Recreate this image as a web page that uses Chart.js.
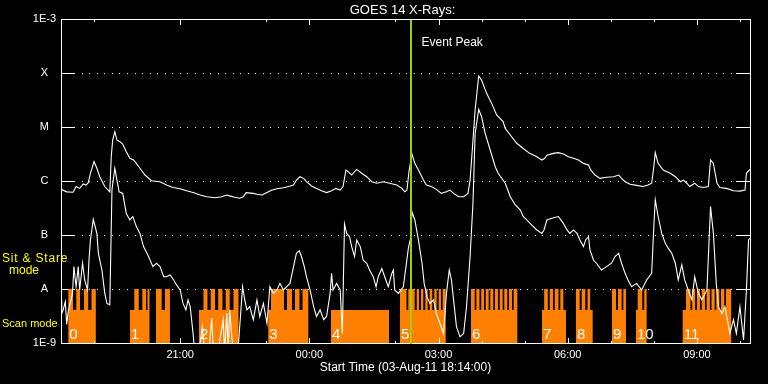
<!DOCTYPE html>
<html><head><meta charset="utf-8">
<script src="https://cdn.jsdelivr.net/npm/chart.js@4/dist/chart.umd.min.js"></script>
<style>html,body{margin:0;padding:0;background:#000;}canvas{display:block;}</style>
</head><body>
<canvas id="c" width="768" height="384"></canvas>
<script>
// ---- data (time in minutes after start 03-Aug-11 18:14:00, flux in W/m^2) ----
const longMin = [0,8,17,21,26,31,35,38,41,46, 50,54,61,68,70,72,75,78,82,86,
  91,96,101,105,110,117,126,138,147,156, 166,175,184,194,203,215,224,231,235,242,
  249,254,258,268,273,280,287,294,301,310, 317,324,328,333,338,342,349,356,363,370,
  377,383,389,393,397,400,405,412,419,426, 433,440,449,458,468,475,479,482,485,489,
  493,498,505,509,516,523,530,537,542,547, 554,561,567,570,574,577,582,586,593,600,
  607,616,619,626,635,644,653,663,670,674, 677,686,693,700,707,714,721,728,735,738,
  744,751,760,770,777,781,786,793,802,811, 818,823,826,828,832,839,849,856,863,867,
  872,876,883,888,895,902,905,909,914,918, 927,937,946,953,955,960];
const longFlux = [7.0e-7,6.3e-7,6.2e-7,7.9e-7,7.3e-7,8.8e-7,8.4e-7,9.3e-7,1.39e-6,2.28e-6,
  1.72e-6,1.2e-6,7.9e-7,6.3e-7,2.82e-6,5.7e-6,8.2e-6,5.7e-6,5.35e-6,4.84e-6,
  3.49e-6,2.63e-6,2.45e-6,2.12e-6,1.72e-6,1.29e-6,1.01e-6,9.7e-7,8.4e-7,7.6e-7,
  7.2e-7,6.6e-7,6.1e-7,5.5e-7,5.1e-7,4.9e-7,5.1e-7,5.5e-7,5.3e-7,5.0e-7,
  4.8e-7,5.1e-7,6.1e-7,5.9e-7,5.7e-7,5.5e-7,6.1e-7,6.8e-7,7.2e-7,7.5e-7,
  7.9e-7,8.4e-7,1.04e-6,1.2e-6,1.12e-6,9.7e-7,8.1e-7,7.3e-7,6.6e-7,6.1e-7,
  6.6e-7,7.3e-7,6.8e-7,7.9e-7,1.6e-6,1.49e-6,1.29e-6,1.64e-6,1.39e-6,1.2e-6,
  9.7e-7,9.1e-7,9.7e-7,9.1e-7,8.4e-7,7.3e-7,6.3e-7,6.8e-7,1.55e-6,3.16e-6,
  2.12e-6,1.6e-6,1.04e-6,8.4e-7,7.9e-7,7.0e-7,5.9e-7,6.3e-7,6.8e-7,5.9e-7,
  5.1e-7,5.1e-7,5.9e-7,1.04e-6,5.7e-6,2.07e-5,8.8e-5,7.4e-5,4.2e-5,2.74e-5,
  1.67e-5,1.26e-5,9.4e-6,7.1e-6,5.0e-6,4.0e-6,3.25e-6,2.82e-6,2.45e-6,2.63e-6,
  3.0e-6,3.25e-6,3.35e-6,3.16e-6,2.82e-6,2.63e-6,2.45e-6,2.12e-6,1.98e-6,1.6e-6,
  1.29e-6,1.12e-6,1.17e-6,1.2e-6,1.29e-6,1.12e-6,9.7e-7,8.7e-7,8.3e-7,7.9e-7,
  8.4e-7,9.1e-7,1.84e-6,3.35e-6,2.12e-6,1.6e-6,1.39e-6,1.2e-6,9.7e-7,1.04e-6,
  9.1e-7,7.9e-7,9.1e-7,7.9e-7,7.6e-7,7.9e-7,2.45e-6,2.12e-6,9.1e-7,7.6e-7,
  7.3e-7,6.6e-7,6.5e-7,6.8e-7,1.39e-6,1.64e-6];
const shortMin = [0,1,3,6,8,10,14,16,18,21, 24,26,30,33,37,39,41,45,50,52,
  57,61,64,68,71,75,78,81,86,91, 96,100,105,110,115,122,128,133,138,143,
  147,152,157,161,166,170,174,177,180,182, 184,188,192,197,201,206,210,213,219,226,
  228,231,233,235,240,247,253,256,259,263, 268,273,277,282,287,291,296,301,305,310,
  314,319,324,328,332,335,339,342,347,352, 356,361,366,370,375,377,379,384,389,392,
  395,398,402,405,409,412,417,421,426,430, 435,439,442,447,451,456,461,463,465,470,
  477,484,487,489,493,498,503,506,510,514, 519,523,528,533,537,541,544,547,551,556,
  561,565,570,574,577,582,586,591,598,605, 609,619,626,633,640,644,649,656,663,670,
  673,677,684,693,700,705,709,714,719,723, 728,731,735,737,742,746,753,760,767,772,
  777,781,786,790,795,802,809,816,823,826, 828,832,837,842,846,851,856,860,865,869,
  874,879,883,888,893,900,903,905,909,913, 916,921,925,932,937,941,946,951,955,958,
  960];
const shortFlux = [6.3e-9,3.5e-9,4.1e-9,5.8e-9,2.2e-9,3.8e-9,6.3e-9,8.3e-9,2.6e-8,1.1e-8,
  2.6e-8,9.6e-9,3.0e-8,1.47e-8,9.6e-9,3.4e-8,8.1e-8,1.95e-7,1.07e-7,4.6e-8,
  2.25e-8,8.3e-9,5.4e-9,5.1e-9,6.8e-7,1.72e-6,1.04e-6,6.3e-7,5.9e-7,2.5e-7,
  1.9e-7,2.2e-7,1.43e-7,1.07e-7,6.1e-8,4.0e-8,2.6e-8,3.0e-8,2.6e-8,1.69e-8,
  1.69e-8,1.82e-8,1.47e-8,1.19e-8,9.6e-9,5.4e-9,4.1e-9,6.3e-9,4.7e-9,2.7e-9,
  1.5e-9,3.7e-10,6.4e-10,2.0e-9,4.8e-10,6.4e-10,2.9e-9,4.8e-10,7.4e-10,2.7e-9,
  6.4e-10,3.6e-9,6.4e-10,4.1e-9,6.4e-10,8.6e-10,1.1e-8,6.3e-9,4.1e-9,4.7e-9,
  2.7e-9,6.3e-9,3.1e-9,5.4e-9,2.3e-9,1.1e-8,8.3e-9,9.6e-9,1.27e-8,9.6e-9,
  1.1e-8,1.27e-8,2.6e-8,4.6e-8,5.1e-8,4.0e-8,2.6e-8,1.69e-8,9.6e-9,4.7e-9,
  3.1e-9,4.1e-9,2.7e-9,3.1e-9,8.3e-9,1.95e-8,9.6e-9,1.27e-8,9.6e-9,1.5e-9,
  1.6e-7,1.07e-7,9.3e-8,6.1e-8,4.0e-8,8.1e-8,6.1e-8,3.4e-8,3.0e-8,2.25e-8,
  1.69e-8,1.1e-8,1.69e-8,2.4e-8,1.69e-8,1.1e-8,1.95e-8,2.25e-8,9.6e-9,8.3e-9,
  1.1e-8,5.7e-8,8.7e-8,2.7e-7,1.9e-7,8.1e-8,3.0e-8,1.27e-8,7.2e-9,5.4e-9,
  6.3e-9,3.5e-9,2.3e-9,1.5e-9,8.3e-9,2.25e-8,1.47e-8,6.3e-9,2.0e-9,1.3e-9,
  1.5e-9,4.7e-9,4.0e-8,3.9e-7,7.6e-6,2.12e-5,1.55e-5,7.6e-6,3.75e-6,1.84e-6,
  1.39e-6,9.1e-7,5.1e-7,3.6e-7,2.9e-7,2.2e-7,1.9e-7,1.53e-7,1.24e-7,1.07e-7,
  1.24e-7,1.9e-7,2.04e-7,2.2e-7,1.64e-7,1.24e-7,1.07e-7,1.24e-7,1.07e-7,8.1e-8,
  6.1e-8,8.1e-8,9.3e-8,5.3e-8,3.4e-8,3.0e-8,2.25e-8,2.6e-8,3.0e-8,4.0e-8,
  4.6e-8,3.0e-8,1.95e-8,1.47e-8,1.1e-8,1.27e-8,9.6e-9,1.47e-8,1.95e-8,1.43e-7,
  4.5e-7,2.2e-7,1.07e-7,7.0e-8,5.7e-8,4.6e-8,3.0e-8,1.47e-8,2.8e-8,1.47e-8,
  9.6e-9,6.3e-9,1.69e-8,8.3e-9,6.3e-9,9.6e-9,8.1e-8,3.35e-7,1.07e-7,1.27e-8,
  4.7e-9,3.5e-9,4.7e-9,1.5e-9,2.7e-9,1.5e-9,4.7e-9,1.14e-9,9.6e-9,8.1e-8,
  8.7e-8];
// observing mode: 0 = none, 1 = scan mode, 2 = sit & stare mode (segment start times)
const modeStart = [0,
  10.2,16.7,21.3,26.5,32.0,37.9,42.5,48.5,
  96.1,102.1,108.3,113.3,118.4,120.5,123.3,132.4,140.3,144.9,151.8,
  192.3,198.5,204.1,208.6,214.6,219.0,225.0,229.5,235.1,240.3,247.3,
  288.8,292.6,310.7,314.9,321.8,326.0,332.3,336.5,344.6,
  376.2,457.0,
  472.3,481.4,483.9,486.7,489.0,492.8,495.6,498.8,501.6,504.8,507.6,510.9,513.7,517.3,520.1,523.5,526.2,529.4,531.8,536.0,
  571.3,576.4,578.7,583.1,585.5,589.4,591.7,595.9,598.1,602.3,604.7,608.9,611.2,615.4,617.6,621.8,624.2,628.4,630.7,635.8,
  670.2,673.2,678.3,680.9,685.5,688.0,693.2,695.7,699.9,703.6,
  717.5,722.7,725.5,730.5,733.6,737.3,740.8,
  767.7,773.3,776.1,781.2,783.5,787.2,
  801.1,803.5,809.9,812.7,816.0,
  866.2,870.8,877.1,879.4,883.6,886.1,890.3,892.7,897.3,899.6,904.1,906.3,910.8,913.0,917.3,919.6,924.2,926.5,933.8,
  960];
const modeCode = [0,
  2,1,2,1,2,1,2,0,
  1,2,1,2,1,2,0,2,1,2,0,
  1,2,1,2,1,2,1,2,1,2,0,
  1,2,1,2,1,2,1,2,0,
  1,0,
  2,1,2,1,2,1,2,1,2,1,2,1,2,1,2,1,2,1,2,0,
  2,1,2,1,2,1,2,1,2,1,2,1,2,1,2,1,2,1,2,0,
  1,2,1,2,1,2,1,2,1,0,
  2,1,2,1,2,1,0,
  2,1,2,1,2,0,
  1,2,1,2,0,
  1,2,1,2,1,2,1,2,1,2,1,2,1,2,1,2,1,2,0,
  0];
const groupStart = [10.2,96.1,192.3,288.8,376.2,472.3,571.3,670.2,717.5,767.7,801.1,866.2];
const groupLabels = ['0','1','2','3','4','5','6','7','8','9','10','11'];
const yTickValues = [1e-9,1e-8,1e-7,1e-6,1e-5,1e-4,1e-3];
const yTickLabels = ['1E-9','A','B','C','M','X','1E-3'];
const xMajorTicks = [166,346,526,706,886];
const xTickLabels = ['21:00','00:00','03:00','06:00','09:00'];
const xMinorTicks = [46,286,466,586,646,766,826,946];
const eventPeakMin = 488;
const titleText = 'GOES 14 X-Rays:';
const xTitleText = 'Start Time (03-Aug-11 18:14:00)';
const eventText = 'Event Peak';
const modeTexts = ['Sit & Stare', 'mode', 'Scan mode'];

// ---- styling ----
const FONT = "'Liberation Sans', Arial, sans-serif";
const ORANGE = '#ff8000';
const GREEN = '#a0cd0a';
const modeHeight = [0, 0.61, 1]; // in units of the A-level band

const decoPlugin = {
  id: 'deco',
  beforeDatasetsDraw(chart) {
    const {ctx, chartArea: a, scales: {y}} = chart;
    ctx.save();
    ctx.fillStyle = '#fff';
    yTickValues.slice(1, -1).forEach(v => {
      const py = Math.round(y.getPixelForValue(v));
      for (let px = a.left + 20.7; px < a.right - 15; px += 7.55) ctx.fillRect(Math.round(px), py, 1, 1);
      ctx.fillRect(a.left, py, 14, 1);
      ctx.fillRect(a.right - 14, py, 15, 1);
    });
    ctx.restore();
  },
  afterDatasetsDraw(chart) {
    const {ctx, chartArea: a, scales: {x}} = chart;
    ctx.save();
    // group numbers
    ctx.fillStyle = '#fff';
    ctx.font = '15px ' + FONT;
    ctx.textAlign = 'left';
    ctx.textBaseline = 'alphabetic';
    groupStart.forEach((t, i) => {
      ctx.fillText(groupLabels[i], x.getPixelForValue(t) + 1, a.bottom - 4.5);
    });
    // frame
    ctx.strokeStyle = '#fff';
    ctx.lineWidth = 1;
    ctx.strokeRect(a.left + 0.5, a.top + 0.5, a.right - a.left, a.bottom - a.top);
    // time ticks
    const tick = (t, len) => {
      const px = Math.round(x.getPixelForValue(t));
      ctx.fillRect(px, a.top, 1, len);
      ctx.fillRect(px, a.bottom - len + 1, 1, len);
    };
    xMajorTicks.forEach(t => tick(t, 6));
    xMinorTicks.forEach(t => tick(t, 3));
    // event peak line
    const ex = Math.round(x.getPixelForValue(eventPeakMin));
    ctx.fillStyle = GREEN;
    ctx.fillRect(ex - 1, a.top + 1, 2, a.bottom - a.top);
    ctx.fillStyle = '#fff';
    ctx.font = '12px ' + FONT;
    ctx.textBaseline = 'middle';
    ctx.fillText(eventText, ex + 10.5, a.top + 24);
    // title
    ctx.font = '13px ' + FONT;
    ctx.textAlign = 'center';
    ctx.fillText(titleText, (a.left + a.right) / 2 - 3, 10);
    // mode labels
    ctx.fillStyle = '#ffff00';
    ctx.font = '12px ' + FONT;
    ctx.textAlign = 'left';
    if ('letterSpacing' in ctx) ctx.letterSpacing = '0.8px';
    ctx.fillText(modeTexts[0], 2, a.bottom - 84);
    if ('letterSpacing' in ctx) ctx.letterSpacing = '0px';
    ctx.textAlign = 'center';
    ctx.fillText(modeTexts[1], 24, a.bottom - 72);
    ctx.textAlign = 'left';
    ctx.font = '11px ' + FONT;
    ctx.fillText(modeTexts[2], 2, a.bottom - 19);
    ctx.restore();
  }
};

const longData = longMin.map((m, i) => ({x: m, y: longFlux[i]}));
const shortData = shortMin.map((m, i) => ({x: m, y: shortFlux[i]}));
const modeData = modeStart.map((m, i) => ({x: m, y: modeHeight[modeCode[i]]}));

Chart.defaults.font.family = FONT;
new Chart(document.getElementById('c'), {
  type: 'line',
  data: {
    datasets: [
      {label: 'mode', data: modeData, yAxisID: 'ym', stepped: 'before', fill: 'origin',
       backgroundColor: ORANGE, borderColor: 'rgba(0,0,0,0)', borderWidth: 0, pointRadius: 0, order: 3},
      {label: 'short', data: shortData, yAxisID: 'y', borderColor: '#fff', borderWidth: 1.1,
       pointRadius: 0, fill: false, tension: 0, order: 2},
      {label: 'long', data: longData, yAxisID: 'y', borderColor: '#fff', borderWidth: 1.1,
       pointRadius: 0, fill: false, tension: 0, order: 1}
    ]
  },
  options: {
    responsive: false,
    animation: false,
    devicePixelRatio: 1,
    layout: {padding: {top: 19, right: 18, left: 0, bottom: 0}},
    plugins: {legend: {display: false}, tooltip: {enabled: false}, title: {display: false}},
    scales: {
      x: {
        type: 'linear', min: 0, max: 960,
        grid: {display: false, drawTicks: false, tickLength: 0},
        border: {display: false},
        afterBuildTicks: s => { s.ticks = xMajorTicks.map(v => ({value: v})); },
        afterFit: s => { s.height = 41; },
        ticks: {
          color: '#fff', font: {size: 11}, padding: 5, autoSkip: false, maxRotation: 0,
          callback: v => { const i = xMajorTicks.indexOf(v); return i >= 0 ? xTickLabels[i] : ''; }
        },
        title: {display: true, text: xTitleText, color: '#fff', font: {size: 12}, padding: {top: 0, bottom: 9}}
      },
      y: {
        type: 'logarithmic', position: 'left', min: 1e-9, max: 1e-3,
        grid: {display: false, drawTicks: false, tickLength: 0},
        border: {display: false},
        afterBuildTicks: s => { s.ticks = yTickValues.map(v => ({value: v})); },
        afterFit: s => { s.width = 61; },
        ticks: {
          color: '#fff', font: {size: 11}, padding: 5, crossAlign: 'center', autoSkip: false,
          callback: v => {
            const i = yTickValues.findIndex(t => Math.abs(Math.log10(t) - Math.log10(v)) < 1e-6);
            return i >= 0 ? yTickLabels[i] : '';
          }
        }
      },
      ym: {type: 'linear', position: 'right', display: false, min: 0, max: 6}
    }
  },
  plugins: [decoPlugin]
});
</script>
</body></html>
